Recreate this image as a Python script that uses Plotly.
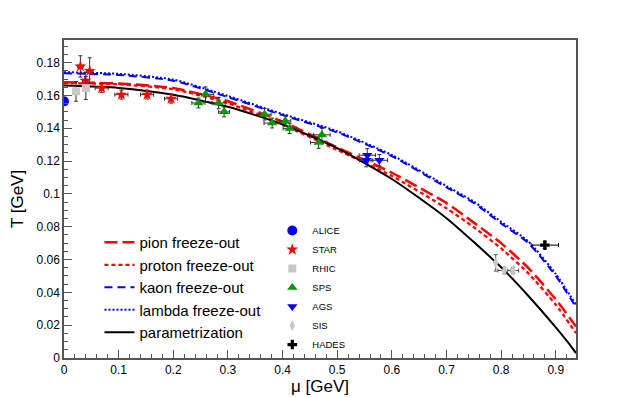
import plotly.graph_objects as go

# ---- freeze-out curves ----
mu_curve = [0.0, 0.1, 0.2, 0.3, 0.4, 0.5, 0.6, 0.7, 0.75, 0.8, 0.85, 0.9, 0.937]
T_pion = [0.1680, 0.1673, 0.1645, 0.1565, 0.1440, 0.1283, 0.1129, 0.0944, 0.0825, 0.0700, 0.0548, 0.0357, 0.0192]
T_proton = [0.1676, 0.1668, 0.1638, 0.1553, 0.1422, 0.1268, 0.1110, 0.0912, 0.0797, 0.0668, 0.0515, 0.0325, 0.0152]
T_kaon = [0.1735, 0.1725, 0.1690, 0.1590, 0.1480, 0.1375, 0.1230, 0.1040, 0.0945, 0.0820, 0.0700, 0.0500, 0.0310]
T_lambda = [0.1742, 0.1732, 0.1697, 0.1597, 0.1487, 0.1382, 0.1237, 0.1048, 0.0953, 0.0830, 0.0710, 0.0512, 0.0325]
mu_param = [0.0, 0.1, 0.2, 0.3, 0.4, 0.5, 0.6, 0.7, 0.8, 0.85, 0.9, 0.932, 0.937]
T_param = [0.1660, 0.1646, 0.1604, 0.1531, 0.1424, 0.1279, 0.1091, 0.0852, 0.0553, 0.0378, 0.0186, 0.0053, 0.0030]

# ---- data points ----
alice_mu = [0.0]
alice_T = [0.1564]
alice_dmu = [0.0]
alice_dT = [0.002]

star_mu = [0.030, 0.047, 0.039, 0.069, 0.105, 0.152, 0.196]
star_T = [0.1777, 0.1750, 0.1690, 0.1645, 0.1605, 0.1605, 0.1580]
star_dmu = [0.005, 0.006, 0.005, 0.012, 0.012, 0.012, 0.012]
star_dT = [0.0065, 0.0080, 0.0050, 0.0028, 0.0027, 0.0027, 0.0027]

rhic_mu = [0.022, 0.040]
rhic_T = [0.1625, 0.1645]
rhic_dmu = [0.005, 0.005]
rhic_dT = [0.0060, 0.0070]

sps_mu = [0.246, 0.259, 0.283, 0.293, 0.367, 0.381, 0.405, 0.413, 0.472, 0.466]
sps_T = [0.1554, 0.1607, 0.1554, 0.1500, 0.1485, 0.1432, 0.1445, 0.1398, 0.1360, 0.1313]
sps_dmu = [0.012, 0.015, 0.012, 0.010, 0.012, 0.015, 0.010, 0.012, 0.015, 0.015]
sps_dT = [0.0030, 0.0045, 0.0035, 0.0030, 0.0035, 0.0030, 0.0035, 0.0030, 0.0040, 0.0035]

ags_mu = [0.555, 0.553, 0.577]
ags_T = [0.1236, 0.1205, 0.1205]
ags_dmu = [0.015, 0.012, 0.015]
ags_dT = [0.0040, 0.0040, 0.0035]

sis_mu = [0.790, 0.806, 0.822]
sis_T = [0.0580, 0.0533, 0.0533]
sis_dmu = [0.0, 0.012, 0.010]
sis_dT = [0.0050, 0.0020, 0.0020]

hades_mu = [0.880]
hades_T = [0.0688]
hades_dmu = [0.025]
hades_dT = [0.0020]

x_range = [0.0, 0.937]
y_range = [0.0, 0.1938]

FONT = "Liberation Sans"
PAGE_OFFSET = 8  # default body margin of the html page
fig = go.Figure()

# curves
curve_specs = [
    ("pion freeze-out", mu_curve, T_pion, "#ff0000", "13px,5px", 2.5),
    ("proton freeze-out", mu_curve, T_proton, "#ff0000", "4px,3px", 2.3),
    ("kaon freeze-out", mu_curve, T_kaon, "#0000ff", "8px,5px", 2.0),
    ("lambda freeze-out", mu_curve, T_lambda, "#0000ff", "2px,2px", 2.0),
    ("parametrization", mu_param, T_param, "#000000", "solid", 2.0),
]
for name, xs, ys, col, dash, w in curve_specs:
    fig.add_trace(go.Scatter(
        x=xs, y=ys, mode="lines", name=name,
        line=dict(color=col, dash=dash, width=w, shape="spline", smoothing=0.6),
        legend="legend",
    ))

# points
pt_specs = [
    ("ALICE", alice_mu, alice_T, alice_dmu, alice_dT, "#0000ff", "circle", 10, "#333333"),
    ("STAR", star_mu, star_T, star_dmu, star_dT, "#ff0000", "star", 9, "#333333"),
    ("RHIC", rhic_mu, rhic_T, rhic_dmu, rhic_dT, "#c8c8c8", "square", 8, "#333333"),
    ("SPS", sps_mu, sps_T, sps_dmu, sps_dT, "#009900", "triangle-up", 9, "#333333"),
    ("AGS", ags_mu, ags_T, ags_dmu, ags_dT, "#0000ff", "triangle-down", 9, "#333333"),
    ("SIS", sis_mu, sis_T, sis_dmu, sis_dT, "#c8c8c8", "diamond-tall", 8, "#555555"),
    ("HADES", hades_mu, hades_T, hades_dmu, hades_dT, "#000000", "cross", 8, "#000000"),
]
for name, xs, ys, dx, dy, col, sym, sz, ecol in pt_specs:
    fig.add_trace(go.Scatter(
        x=xs, y=ys, mode="markers", name=name,
        marker=dict(color=col, symbol=sym, size=sz, line=dict(width=0)),
        error_x=dict(type="data", array=dx, color=ecol, thickness=1, width=2),
        error_y=dict(type="data", array=dy, color=ecol, thickness=1, width=2),
        legend="legend2",
    ))

axis_common = dict(
    showgrid=False, zeroline=False, showline=True, linecolor="#555555", linewidth=1.5,
    mirror=True, ticks="inside", tickcolor="#555555", ticklen=8, automargin=False,
    tickfont=dict(family=FONT, size=12, color="#000000"),
)
fig.update_xaxes(
    range=x_range, dtick=0.1, tick0=0, tickformat="~g",
    minor=dict(ticks="inside", ticklen=4, dtick=0.02, tickcolor="#555555"),
    title=dict(text="μ [GeV]", font=dict(family=FONT, size=17, color="#000000"), standoff=3),
    **axis_common,
)
fig.update_yaxes(
    range=y_range, dtick=0.02, tick0=0, tickformat="~g",
    minor=dict(ticks="inside", ticklen=4, dtick=0.005, tickcolor="#555555"),
    title=dict(text="T [GeV]", font=dict(family=FONT, size=17, color="#000000"), standoff=9),
    **axis_common,
)

fig.update_layout(
    width=640 - PAGE_OFFSET, height=397 - PAGE_OFFSET,
    margin=dict(l=63.5 - PAGE_OFFSET, r=64, t=39.5 - PAGE_OFFSET, b=38.7, autoexpand=False),
    paper_bgcolor="white", plot_bgcolor="white",
    font=dict(family=FONT, color="#000000"),
    showlegend=True,
    legend=dict(
        x=(99 - 63.5) / 512.5, y=(358.3 - 226) / 318.8, xanchor="left", yanchor="top",
        bgcolor="rgba(0,0,0,0)", borderwidth=0,
        font=dict(family=FONT, size=15, color="#000000"),
        itemwidth=30, tracegroupgap=0,
    ),
    legend2=dict(
        x=(272 - 63.5) / 512.5, y=(358.3 - 216) / 318.8, xanchor="left", yanchor="top",
        bgcolor="rgba(0,0,0,0)", borderwidth=0,
        font=dict(family=FONT, size=9.5, color="#000000"),
        itemwidth=30, tracegroupgap=0,
    ),
)

fig.write_html("out.html")
